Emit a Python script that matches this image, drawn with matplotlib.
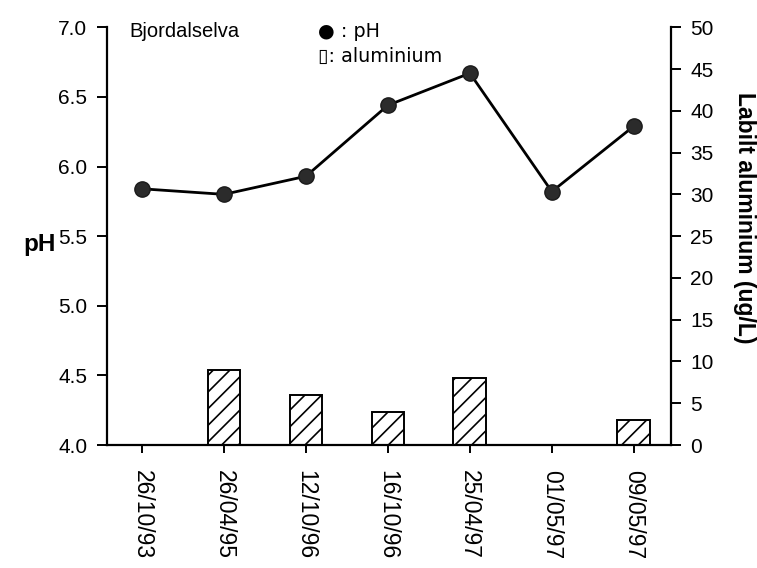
import matplotlib
matplotlib.use("Agg")
import matplotlib.pyplot as plt
import numpy as np

plt.rcParams["font.family"] = ["Liberation Sans", "DejaVu Sans"]
plt.rcParams["hatch.linewidth"] = 1.2

# data
dates = ["26/10/93", "26/04/95", "12/10/96", "16/10/96", "25/04/97", "01/05/97", "09/05/97"]
ph = [5.84, 5.80, 5.93, 6.44, 6.67, 5.82, 6.29]
aluminium = [0, 9, 6, 4, 8, 0, 3]
ph_ticks = [4.0, 4.5, 5.0, 5.5, 6.0, 6.5, 7.0]
al_ticks = list(range(0, 55, 5))

x = np.arange(len(dates))

fig = plt.figure(figsize=(7.57, 5.68), dpi=100, facecolor="white")
ax = fig.add_axes([0.141, 0.2165, 0.745, 0.7355])
ax2 = ax.twinx()
ax.set_zorder(ax2.get_zorder() + 1)
ax.patch.set_visible(False)

# labile aluminium bars on the right scale
ax2.bar(x, aluminium, width=0.4, facecolor="white", edgecolor="black",
        linewidth=1.4, hatch="//")

# pH line on the left scale
ax.plot(x, ph, color="black", linewidth=2.0, marker="o", markersize=11,
        markerfacecolor="#2b2b2b", markeredgecolor="#1a1a1a")

ax.set_xlim(-0.43, 6.45)
ax.set_ylim(4.0, 7.0)
ax2.set_ylim(0, 50)

ax.set_yticks(ph_ticks)
ax.set_yticklabels([f"{t:.1f}" for t in ph_ticks])
ax2.set_yticks(al_ticks)
ax.set_xticks(x)
ax.set_xticklabels(dates, rotation=270, va="top", ha="center")

for a in (ax, ax2):
    a.spines["top"].set_visible(False)
    for s in a.spines.values():
        s.set_linewidth(1.6)
ax.spines["right"].set_visible(False)
ax2.spines["left"].set_visible(False)
ax2.spines["bottom"].set_visible(False)

ax.tick_params(axis="y", direction="out", length=7, width=1.4, labelsize=15, pad=7)
ax.tick_params(axis="x", direction="out", length=6, width=1.4, labelsize=16.5, pad=12)
ax2.tick_params(axis="y", direction="out", length=7, width=1.4, labelsize=15, pad=7)

ax.set_ylabel("pH", rotation=0, fontsize=17.5, fontweight="bold", va="center")
ax.yaxis.set_label_coords(-0.12, 0.48)
ax2.set_ylabel("Labilt aluminium (ug/L)", rotation=270, fontsize=16.5,
               fontweight="bold", va="center")
ax2.yaxis.set_label_coords(1.13, 0.545)

# legend-like annotations as in the original
ax.text(0.041, 0.99, "Bjordalselva", transform=ax.transAxes, fontsize=14.5,
        va="center", ha="left")
ax.text(0.374, 0.99, "\u25cf : pH", transform=ax.transAxes, fontsize=13.8,
        va="center", ha="left", family=["DejaVu Sans"], color="black")
ax.text(0.374, 0.93, "\u25af: aluminium", transform=ax.transAxes, fontsize=13.8,
        va="center", ha="left", family=["DejaVu Sans"])

fig.savefig("out.png", dpi=100, facecolor="white")
